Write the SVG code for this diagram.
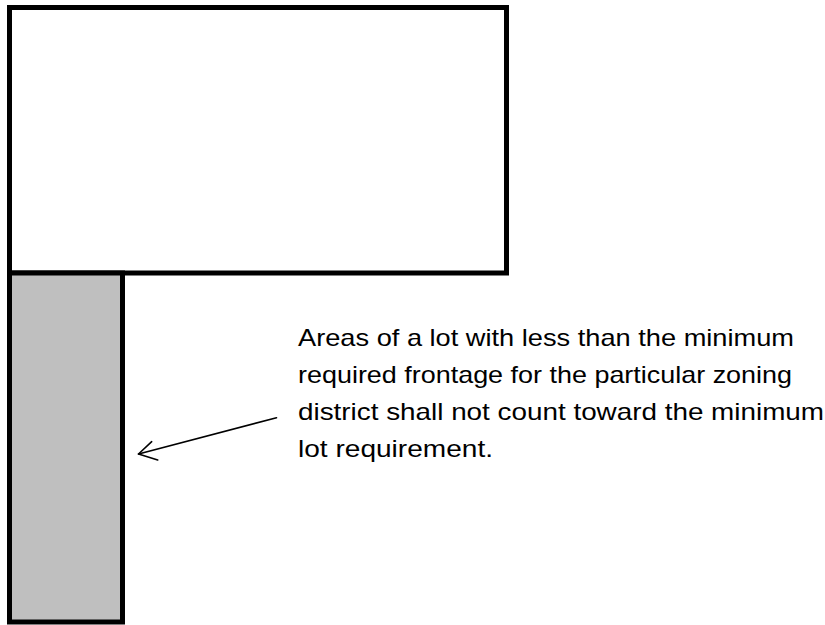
<svg xmlns="http://www.w3.org/2000/svg" width="825" height="625" viewBox="0 0 825 625">
<style>
.box{stroke:#000;stroke-width:5;stroke-linejoin:miter}
.lbl{font-family:"Liberation Sans",Arial,sans-serif;font-size:24px;fill:#000}
.conn{stroke:#000;stroke-width:1.6;fill:none;stroke-linecap:round;stroke-linejoin:round}
</style>
<rect width="825" height="625" fill="#fff"/>
<g id="main-lot">
<rect class="box" x="9.5" y="7.5" width="497" height="265.5" fill="#fff"/>
</g>
<g id="narrow-strip">
<rect class="box" x="9.5" y="273" width="113" height="349" fill="#bfbfbf"/>
</g>
<g id="note">
<text class="lbl" x="298" y="346" textLength="496" lengthAdjust="spacingAndGlyphs">Areas of a lot with less than the minimum</text>
<text class="lbl" x="298" y="383" textLength="494" lengthAdjust="spacingAndGlyphs">required frontage for the particular zoning</text>
<text class="lbl" x="298" y="420" textLength="526" lengthAdjust="spacingAndGlyphs">district shall not count toward the minimum</text>
<text class="lbl" x="298" y="457" textLength="195" lengthAdjust="spacingAndGlyphs">lot requirement.</text>
</g>
<g id="connectors">
<line class="conn" x1="276.5" y1="417.7" x2="138.5" y2="454"/>
<polyline class="conn" points="151.7,441.7 138.5,454 157.7,460"/>
</g>
</svg>
